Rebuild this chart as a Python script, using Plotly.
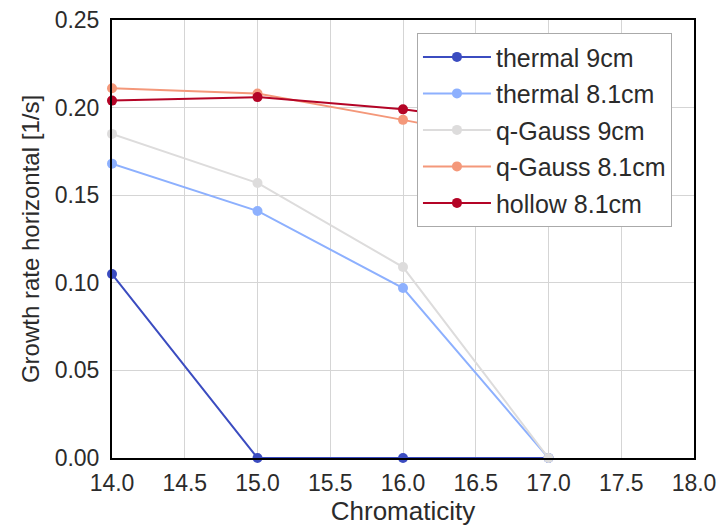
import plotly.graph_objects as go

chromaticity = [14, 15, 16, 17]
thermal_9cm = [0.105, 0.0, 0.0, 0.0]
thermal_81cm = [0.168, 0.141, 0.097, 0.0]
qgauss_9cm = [0.185, 0.157, 0.109, 0.0]
qgauss_81cm = [0.211, 0.208, 0.193, 0.177]
hollow_81cm = [0.204, 0.206, 0.199, 0.188]

series = [
    ("thermal 9cm", thermal_9cm, "#3b4cc0"),
    ("thermal 8.1cm", thermal_81cm, "#8db0fe"),
    ("q-Gauss 9cm", qgauss_9cm, "#dddcdc"),
    ("q-Gauss 8.1cm", qgauss_81cm, "#f4987a"),
    ("hollow 8.1cm", hollow_81cm, "#b40426"),
]

font_family = "Liberation Sans, Arial, sans-serif"
text_color = "#2b2b2b"
fig = go.Figure()
for name, ys, color in series:
    fig.add_trace(go.Scatter(
        x=chromaticity, y=ys, name=name, mode="lines+markers",
        legendgroup=name,
        line=dict(color=color, width=2),
        marker=dict(color=color, size=10),
        cliponaxis=False,
    ))

axis_common = dict(
    showgrid=True, gridcolor="#d5d5d5", gridwidth=1,
    showline=True, linecolor="black", linewidth=2, mirror=True,
    zeroline=False, ticks="", automargin=False,
    tickfont=dict(size=23, color=text_color, family=font_family),
)
fig.update_xaxes(range=[14, 18], dtick=0.5, tickformat=".1f", ticklabelstandoff=3,
                 title=dict(text="Chromaticity", font=dict(size=26, color=text_color), standoff=4),
                 **axis_common)
fig.update_yaxes(range=[0, 0.25], dtick=0.05, tickformat=".2f", ticklabelstandoff=6,
                 title=dict(text="Growth rate horizontal [1/s]", font=dict(size=24, color=text_color), standoff=8),
                 **axis_common)
fig.update_layout(
    width=722, height=527,
    margin=dict(l=112, r=28, t=20, b=69),
    plot_bgcolor="white", paper_bgcolor="white",
    font=dict(family=font_family, color=text_color),
    legend=dict(
        x=0.524, y=0.97, xanchor="left", yanchor="top",
        bgcolor="white", bordercolor="#aaaaaa", borderwidth=1,
        font=dict(size=25, color=text_color),
        tracegroupgap=1, itemwidth=68,
    ),
)
fig.write_html("out.html")
